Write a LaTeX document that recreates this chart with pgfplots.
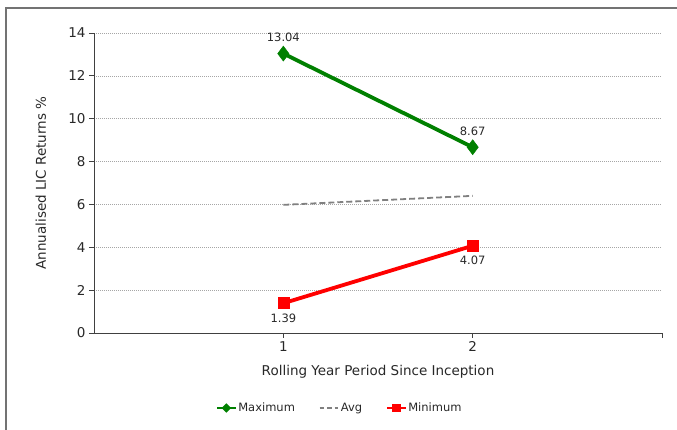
\documentclass[border=0pt]{standalone}
\usepackage{pgfplots}
\pgfplotsset{compat=1.18}
\usepackage{fontspec}
\setmainfont{DejaVu Sans}
\definecolor{maxg}{RGB}{0,128,0}
\definecolor{minr}{RGB}{255,0,0}
\definecolor{avgg}{RGB}{128,128,128}
\definecolor{txt}{RGB}{40,40,40}
\begin{document}
\begin{tikzpicture}[x=1pt,y=1pt]
\path[use as bounding box] (-94,-97) rectangle (583,333);
\draw[line width=2pt, color=black!55] (-88,-100) -- (-88,325) -- (590,325);
\begin{axis}[
  at={(0,0)}, anchor=south west,
  scale only axis, width=568pt, height=300pt,
  xmin=0, xmax=3, ymin=0, ymax=14,
  axis x line=bottom, axis y line=left,
  axis line style={-, color=black!75, line width=0.8pt},
  xtick={1,2,3}, xticklabels={1,2,{}},
  ytick={0,2,...,14},
  tick style={color=black!75, line width=0.8pt},
  tick align=outside, major tick length=5pt,
  ymajorgrids, grid style={dash pattern=on 1pt off 1pt, color=black!35, line width=0.6pt},
  /pgf/number format/assume math mode=true,
  tick label style={font=\fontsize{13.5}{16}\selectfont, color=txt},
  xlabel={Rolling Year Period Since Inception},
  ylabel={Annualised LIC Returns \%},
  label style={font=\fontsize{13.5}{16}\selectfont, color=txt},
  xlabel style={at={(0.5,-0.095)}, anchor=north},
  ylabel style={at={(-0.078,0.5)}, anchor=south},
  legend columns=3,
  legend style={draw=none, fill=none, at={(0.433,-0.25)}, anchor=center,
    font=\fontsize{11.5}{13}\selectfont, text=txt,
    /tikz/every even column/.append style={column sep=22pt}},
  clip=false,
]
\addplot[color=maxg, line width=3.8pt, mark=diamond*, mark size=7.5pt,
  mark options={solid, line width=0.5pt},
  legend image code/.code={\draw[maxg, line width=1.5pt] (0,0) -- (0.65cm,0); \fill[maxg] (0.325cm,0) +(-2pt,0) -- +(0,2pt) -- +(2pt,0) -- +(0,-2pt) -- cycle;},
  nodes near coords, point meta=explicit symbolic,
  every node near coord/.append style={font=\fontsize{11.5}{13}\selectfont, color=txt, anchor=south, yshift=8pt}]
  coordinates {(1,13.04) [13.04] (2,8.67) [8.67]};
\addlegendentry{Maximum}
\addplot[color=avgg, line width=1.8pt, dash pattern=on 6pt off 3pt,
  legend image code/.code={\draw[avgg, line width=1.5pt, dash pattern=on 4.5pt off 3pt] (0,0) -- (0.65cm,0);}]
  coordinates {(1,5.98) (2,6.40)};
\addlegendentry{Avg}
\addplot[color=minr, line width=3.8pt, mark=square*, mark size=5.5pt,
  mark options={solid, line width=0.5pt},
  legend image code/.code={\draw[minr, line width=1.5pt] (0,0) -- (0.65cm,0); \fill[minr] (0.325cm,0) +(-2.5pt,-2.5pt) rectangle +(2.5pt,2.5pt);},
  nodes near coords, point meta=explicit symbolic,
  every node near coord/.append style={font=\fontsize{11.5}{13}\selectfont, color=txt, anchor=north, yshift=-7pt}]
  coordinates {(1,1.39) [1.39] (2,4.07) [4.07]};
\addlegendentry{Minimum}
\end{axis}
\end{tikzpicture}
\end{document}
